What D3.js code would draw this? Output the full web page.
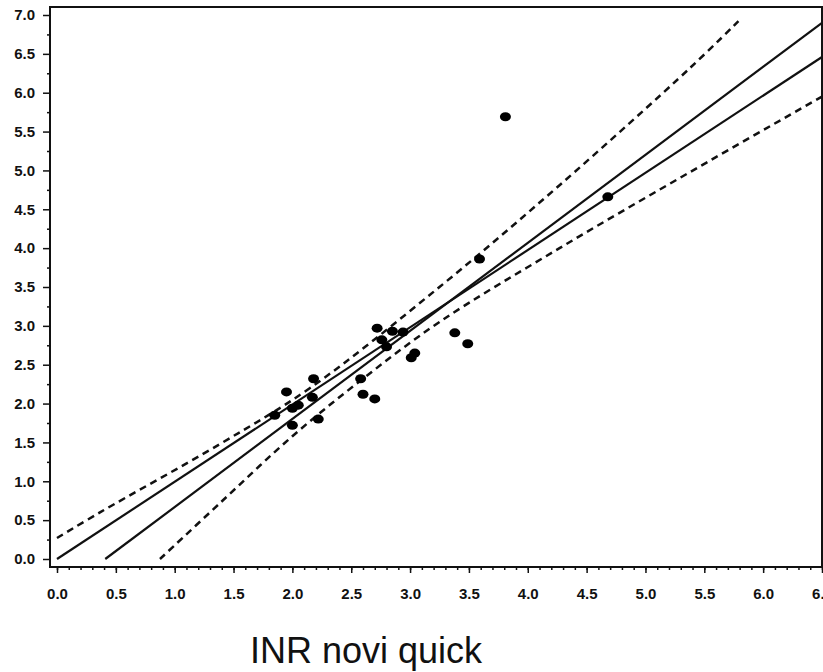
<!DOCTYPE html>
<html>
<head>
<meta charset="utf-8">
<script src="https://cdn.jsdelivr.net/npm/d3@7"></script>
<style>
  body { margin: 0; background: #fff; }
  svg { display: block; font-family: 'Liberation Sans', Arial, sans-serif; }
  .tick text { font-size: 15px; font-weight: bold; fill: #111; }
</style>
</head>
<body>
<svg id="chart" width="823" height="672"></svg>
<script>
const width = 823
const height = 672

// measured points (x = INR novi quick, y = reference INR)
const pointX = [2.72, 2.76, 2.85, 2.94, 2.80, 3.38, 3.49, 3.04, 3.01, 2.58, 2.60, 2.70,
  2.18, 1.95, 1.85, 2.00, 2.05, 2.17, 2.00, 2.22, 3.81, 4.68, 3.59]
const pointY = [2.97, 2.82, 2.93, 2.92, 2.73, 2.91, 2.77, 2.65, 2.59, 2.32, 2.12, 2.06,
  2.32, 2.15, 1.85, 1.94, 1.98, 2.08, 1.72, 1.80, 5.69, 4.66, 3.86]

// solid lines: identity and regression
const identityLine = [[0, 0], [6.5, 6.46]]
const regressionLine = [[0.41, 0], [6.5, 6.9]]

// dashed confidence band
const upperBand = [[0, 0.27], [0.365, 0.6], [1.385, 1.48], [2.15, 2.2], [3.25, 3.5],
  [4.27, 4.81], [5.38, 6.32], [5.79, 6.92]]
const lowerBand = [[0.875, 0], [1.385, 0.72], [2.0, 1.58], [2.6, 2.32], [3.25, 3.05],
  [4.27, 4.0], [5.38, 4.98], [6.5, 5.95]]

const xTicks = d3.range(0, 6.51, 0.5)
const yTicks = d3.range(0, 7.01, 0.5)
const xLabel = 'INR novi quick'

const frame = { left: 50, top: 7, right: 822, bottom: 567 }

const x = d3.scaleLinear().domain([0, 6.5]).range([57, 822])
const y = d3.scaleLinear().domain([0, 7]).range([559, 15])

const svg = d3.select('#chart')

// minor ticks
svg.append('g')
  .attr('transform', `translate(0,${frame.bottom})`)
  .call(d3.axisBottom(x).tickValues(d3.range(0, 6.51, 0.1)).tickSize(3).tickFormat(''))
  .call(g => g.select('.domain').remove())
svg.append('g')
  .attr('transform', `translate(${frame.left},0)`)
  .call(d3.axisLeft(y).tickValues(d3.range(0.25, 7, 0.5)).tickSize(3).tickFormat(''))
  .call(g => g.select('.domain').remove())

// major axes
svg.append('g')
  .attr('transform', `translate(0,${frame.bottom})`)
  .call(d3.axisBottom(x).tickValues(xTicks).tickSize(6).tickPadding(15).tickFormat(d3.format('.1f')))
  .call(g => g.select('.domain').remove())
svg.append('g')
  .attr('transform', `translate(${frame.left},0)`)
  .call(d3.axisLeft(y).tickValues(yTicks).tickSize(7).tickPadding(8).tickFormat(d3.format('.1f')))
  .call(g => g.select('.domain').remove())

svg.selectAll('.tick line').attr('stroke', '#111').attr('stroke-width', 1.5)

// frame
svg.append('rect')
  .attr('x', frame.left)
  .attr('y', frame.top)
  .attr('width', frame.right - frame.left)
  .attr('height', frame.bottom - frame.top)
  .attr('fill', 'none')
  .attr('stroke', '#111')
  .attr('stroke-width', 2)

const line = d3.line().x(d => x(d[0])).y(d => y(d[1]))
const curve = d3.line().x(d => x(d[0])).y(d => y(d[1])).curve(d3.curveCatmullRom)

svg.append('path')
  .attr('d', line(identityLine))
  .attr('fill', 'none').attr('stroke', '#111').attr('stroke-width', 2.2)
svg.append('path')
  .attr('d', line(regressionLine))
  .attr('fill', 'none').attr('stroke', '#111').attr('stroke-width', 2.2)

;[upperBand, lowerBand].forEach(band => {
  svg.append('path')
    .attr('d', curve(band))
    .attr('fill', 'none')
    .attr('stroke', '#111')
    .attr('stroke-width', 2.5)
    .attr('stroke-dasharray', '7,5')
})

svg.selectAll('.pt')
  .data(d3.range(pointX.length))
  .enter()
  .append('ellipse')
  .attr('class', 'pt')
  .attr('cx', i => x(pointX[i]))
  .attr('cy', i => y(pointY[i]))
  .attr('rx', 5.5)
  .attr('ry', 4.5)
  .attr('fill', '#000')

svg.append('text')
  .attr('x', 250)
  .attr('y', 663)
  .attr('font-size', 36)
  .attr('fill', '#111')
  .text(xLabel)
</script>
</body>
</html>
